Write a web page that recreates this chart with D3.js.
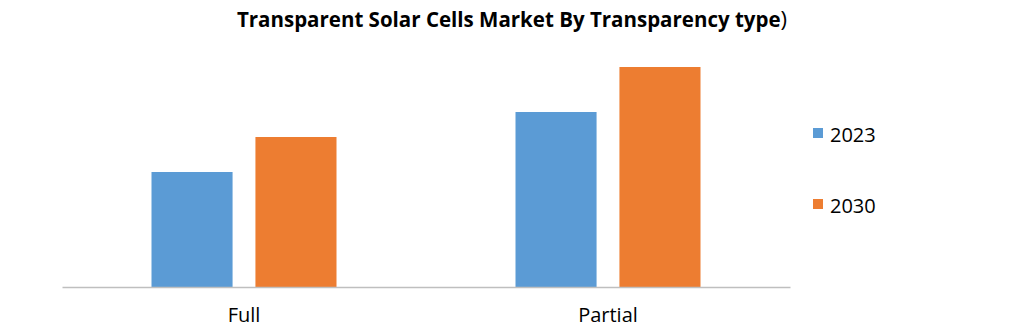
<!DOCTYPE html>
<html>
<head>
<meta charset="utf-8">
<script src="https://cdn.jsdelivr.net/npm/d3@7"></script>
<style>
  body { margin: 0; background: #fff; }
  text { font-family: "Open Sans", "Noto Sans", sans-serif; }
</style>
</head>
<body>
<svg id="chart"></svg>
<script>
const categories = ["Full", "Partial"];
const seriesNames = ["2023", "2030"];
const values2023 = [115, 175];
const values2030 = [150, 220];
const colors = ["#5b9bd5", "#ed7d31"];

const width = 1023, height = 328;
const margin = { top: 37, left: 62, right: 233, bottom: 41 };

const svg = d3.select("#chart")
	.attr("width", width)
	.attr("height", height);

// title, last bracket is not bold in the original
const title = svg.append("text")
	.attr("x", 512)
	.attr("y", 27)
	.attr("text-anchor", "middle")
	.style("font-size", "20.5px");
title.append("tspan").attr("font-weight", "bold").text("Transparent Solar Cells Market By Transparency type");
title.append("tspan").style("font-size", "22px").text(")");

const xScale = d3.scaleBand()
	.domain(categories)
	.range([margin.left, width - margin.right]);
const xInner = d3.scaleBand()
	.domain(seriesNames)
	.range([0, 185])
	.paddingInner(0.22);
const yScale = d3.scaleLinear()
	.domain([0, 250])
	.range([height - margin.bottom, margin.top]);

const rows = categories.map(function(c, i) {
	return { cat: c, vals: [values2023[i], values2030[i]] };
});

const groups = svg.selectAll(".group")
	.data(rows)
	.enter().append("g")
	.attr("class", "group")
	.attr("transform", function(d) { return "translate(" + (xScale(d.cat) + (xScale.bandwidth() - 185) / 2) + ",0)"; });

groups.selectAll("rect")
	.data(function(d) { return d.vals.map(function(v, j) { return { name: seriesNames[j], v: v, j: j }; }); })
	.enter().append("rect")
	.attr("x", function(d) { return xInner(d.name); })
	.attr("width", xInner.bandwidth())
	.attr("y", function(d) { return yScale(d.v); })
	.attr("height", function(d) { return yScale(0) - yScale(d.v); })
	.attr("fill", function(d) { return colors[d.j]; });

// axis
const xAxis = svg.append("g")
	.attr("transform", "translate(0," + yScale(0) + ")")
	.call(d3.axisBottom(xScale).tickSize(0).tickPadding(21));
xAxis.select(".domain").attr("stroke", "#bfbfbf").attr("stroke-width", 1.5);
xAxis.selectAll("text")
	.style("font-size", "20px")
	.style("font-family", "'Open Sans', sans-serif")
	.attr("fill", "#000");

// legend
const legend = svg.selectAll(".legend")
	.data(seriesNames)
	.enter().append("g")
	.attr("class", "legend")
	.attr("transform", function(d, i) { return "translate(813," + (128 + i * 71) + ")"; });
legend.append("rect")
	.attr("width", 10)
	.attr("height", 10)
	.attr("fill", function(d, i) { return colors[i]; });
legend.append("text")
	.attr("x", 17)
	.attr("y", 14)
	.style("font-size", "20px")
	.text(function(d) { return d; });
</script>
</body>
</html>
